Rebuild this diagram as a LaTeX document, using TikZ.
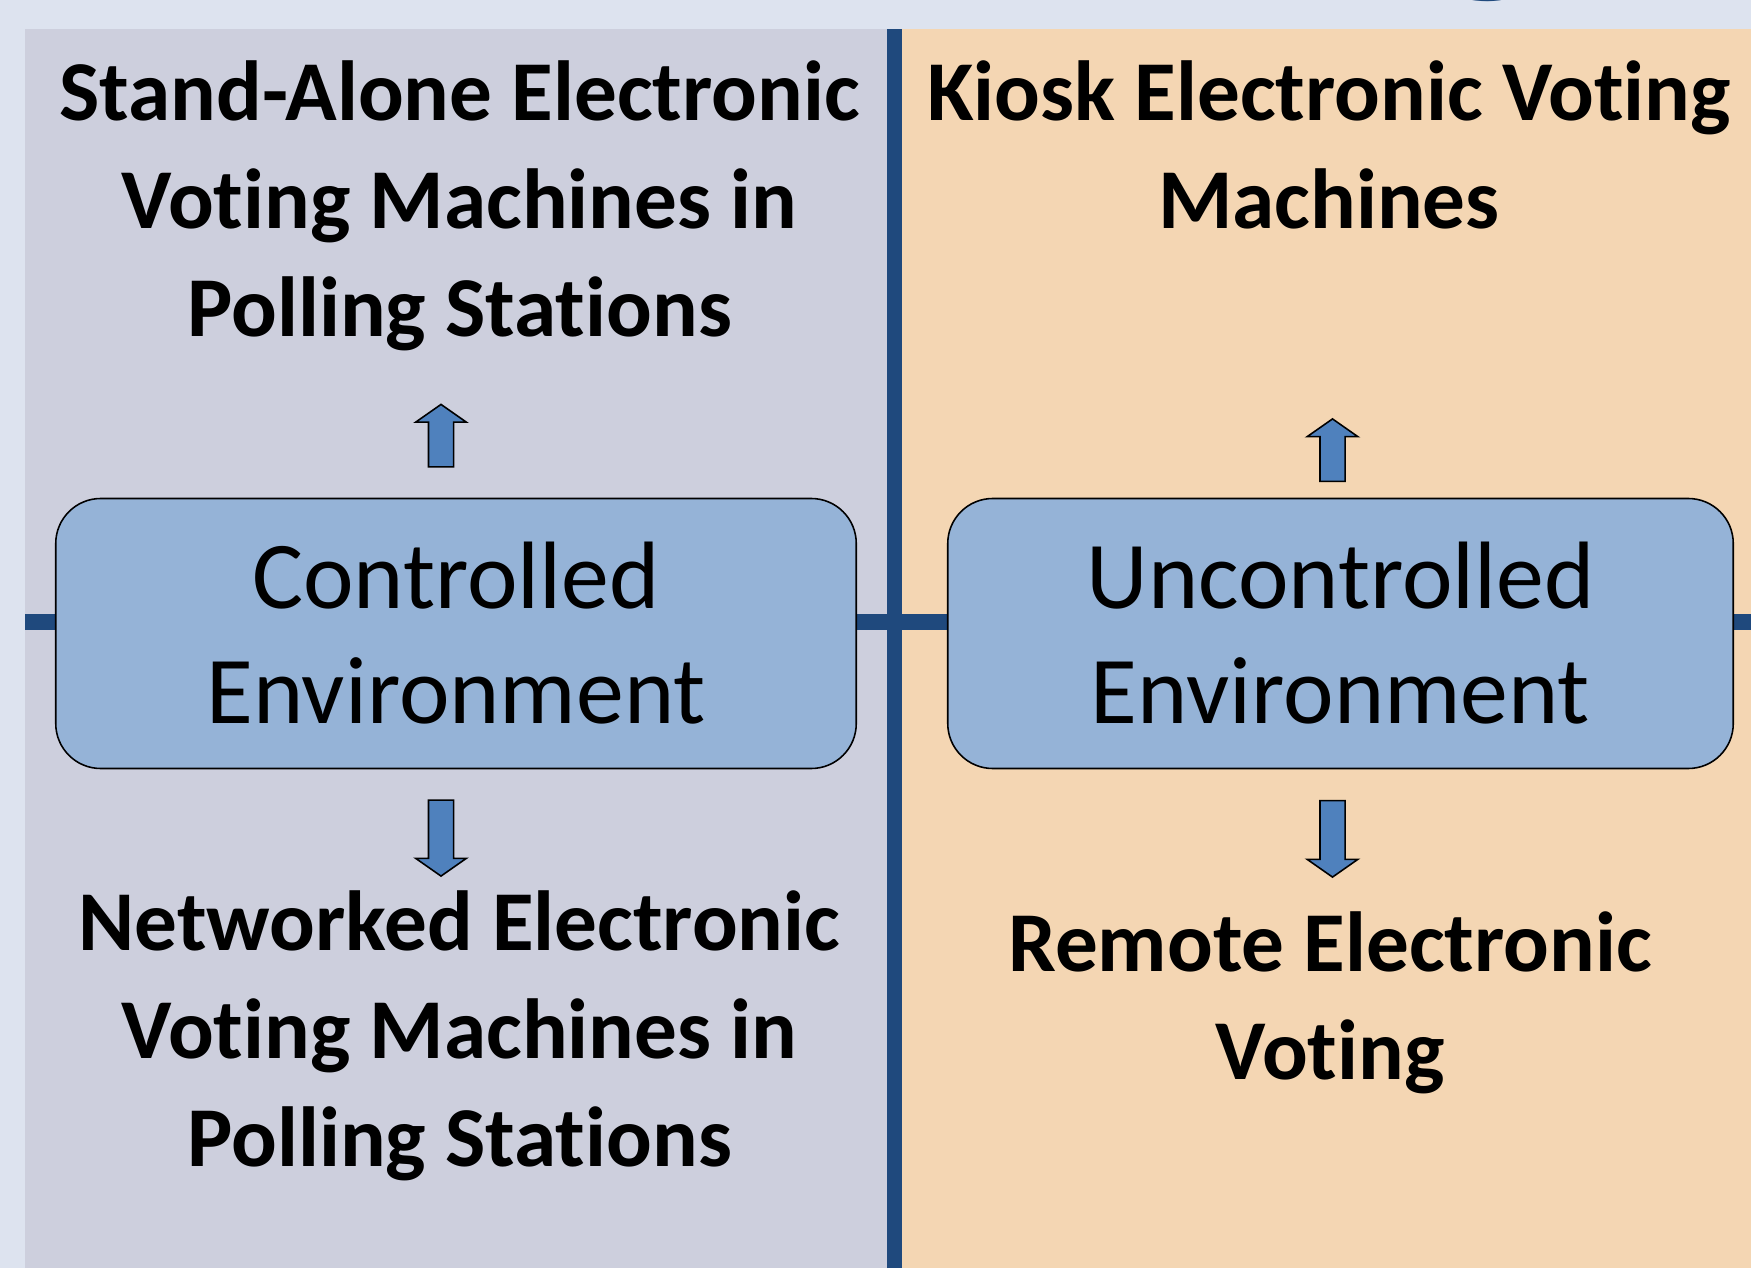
\documentclass[tikz,border=0pt]{standalone}
\usepackage{fontspec}
\setmainfont{Carlito}[Ligatures=NoCommon]
\usepackage{xcolor}
\definecolor{pagebg}{RGB}{221,227,239}
\definecolor{greypanel}{RGB}{205,207,221}
\definecolor{peachpanel}{RGB}{244,214,179}
\definecolor{darkblue}{RGB}{31,73,125}
\definecolor{boxblue}{RGB}{149,179,215}
\definecolor{arrowblue}{RGB}{79,129,189}
\usepackage{tikz}
\usetikzlibrary{shapes.arrows, positioning}

\begin{document}
\begin{tikzpicture}[
  envbox/.style={
    rectangle, rounded corners=0.9cm, minimum height=5.4cm,
    draw=black, line width=0.9pt, fill=boxblue, align=center,
    font=\fontsize{54.5}{65.5}\selectfont
  },
  blockarrow/.style={
    single arrow, draw=black, line width=0.9pt, fill=arrowblue,
    inner sep=0.235cm, single arrow head extend=0.255cm, single arrow tip angle=110
  },
  uparrow/.style={blockarrow, shape border rotate=90},
  downarrow/.style={blockarrow, shape border rotate=270},
  caption/.style={align=center, inner sep=0pt, anchor=north,
    font=\bfseries\fontsize{48.5}{61.5}\selectfont}
]
% background and the two panels
\fill[pagebg] (0,0) rectangle (35.02,25.36);
\useasboundingbox (0,0) rectangle (35.02,25.36);
\fill[greypanel] (0.5,0) rectangle (17.74,24.78);
\fill[peachpanel] (18.04,0) rectangle (35.02,24.78);
\draw[darkblue, line width=0.31cm] (17.89,0) -- (17.89,24.78);
\draw[darkblue, line width=0.32cm] (0.5,12.92) -- (35.02,12.92);

% cut-off title above
\node[anchor=base, inner sep=0pt, text=darkblue,
  font=\bfseries\fontsize{135}{135}\selectfont] (title) at (30.92,26.12) {gy};

\node[envbox, minimum width=16.01cm] (ctrl) at (9.12,12.69) {Controlled\\Environment};
\node[envbox, minimum width=15.71cm] (unctrl) at (26.81,12.69) {Uncontrolled\\Environment};

\node[uparrow, minimum height=1.25cm, above=0.6cm of ctrl.north, anchor=tail, xshift=-0.3cm] (upL) {};
\node[uparrow, minimum height=1.25cm, above=0.31cm of unctrl.north, anchor=tail, xshift=-0.16cm] (upR) {};
\node[downarrow, minimum height=1.52cm, below=0.6cm of ctrl.south, anchor=tail, xshift=-0.3cm] (dnL) {};
\node[downarrow, minimum height=1.53cm, below=0.61cm of unctrl.south, anchor=tail, xshift=-0.16cm] (dnR) {};

\node[caption] (standalone) at (9.19,24.15) {Stand-Alone Electronic\\Voting Machines in\\Polling Stations};
\node[caption] (kiosk) at (26.58,24.15) {Kiosk Electronic Voting\\Machines};
\node[caption] (networked) at (9.19,7.56) {Networked Electronic\\Voting Machines in\\Polling Stations};
\node[caption] (remote) at (26.6,7.13) {Remote Electronic\\Voting};
\end{tikzpicture}
\end{document}
